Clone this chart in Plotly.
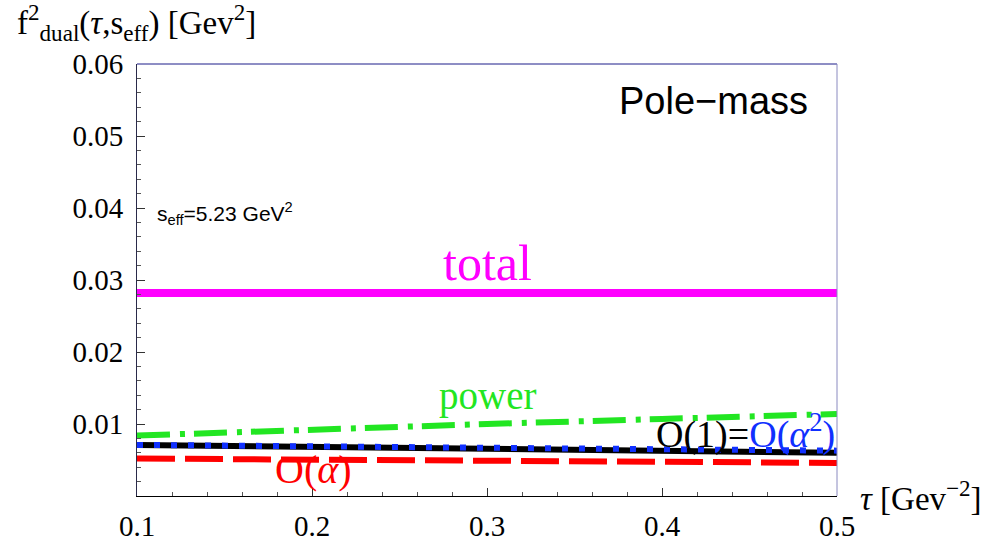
import plotly.graph_objects as go

# Borel parameter grid (GeV^-2)
tau = [0.1, 0.2, 0.3, 0.4, 0.5]

# Dual decay-constant contributions f^2_dual(tau, s_eff) in GeV^2
f_total = [0.0282, 0.0282, 0.0282, 0.0282, 0.0282]
f_power = [0.0084, 0.0093, 0.0100, 0.0107, 0.0114]
f_order1 = [0.0071, 0.0068, 0.0065, 0.0063, 0.0060]
f_order_a2 = [0.0071, 0.0069, 0.0067, 0.0065, 0.0063]
f_order_a = [0.0052, 0.0050, 0.0049, 0.0047, 0.0046]

x_ticks = [0.1, 0.2, 0.3, 0.4, 0.5]
x_tick_text = ["0.1", "0.2", "0.3", "0.4", "0.5"]
y_ticks = [0.01, 0.02, 0.03, 0.04, 0.05, 0.06]
y_tick_text = ["0.01", "0.02", "0.03", "0.04", "0.05", "0.06"]

SERIF = "Liberation Serif, Times New Roman, serif"
SANS = "Liberation Sans, Arial, sans-serif"

fig = go.Figure()
fig.add_trace(go.Scatter(x=tau, y=f_order1, mode="lines",
                         line=dict(color="black", width=6), name="O(1)"))
fig.add_trace(go.Scatter(x=tau, y=f_order_a2, mode="lines",
                         line=dict(color="#1030ff", width=6, dash="6px,11px"), name="O(a^2)"))
fig.add_trace(go.Scatter(x=tau, y=f_order_a, mode="lines",
                         line=dict(color="#ff0000", width=6, dash="38px,10px"), name="O(a)"))
fig.add_trace(go.Scatter(x=tau, y=f_power, mode="lines",
                         line=dict(color="#22e622", width=6, dash="33px,10px,5px,9px"), name="power"))
fig.add_trace(go.Scatter(x=tau, y=f_total, mode="lines",
                         line=dict(color="#ff00ff", width=8), name="total"))

annotations = [
    dict(x=0.3, y=0.0324, text="total", font=dict(family=SERIF, size=50, color="#ff00ff"),
         xanchor="center", yanchor="middle"),
    dict(x=0.3, y=0.0139, text="power", font=dict(family=SERIF, size=39, color="#22e622"),
         xanchor="center", yanchor="middle"),
    dict(x=0.5, y=0.0089,
         text="O(1)=<span style='color:#1030ff'>O(<i>α</i><sup>2</sup>)</span>",
         font=dict(family=SERIF, size=38, color="black"), xanchor="right", yanchor="middle"),
    dict(x=0.2006, y=0.0037, text="O(<i>α</i>)", font=dict(family=SERIF, size=40, color="#ff0000"),
         xanchor="center", yanchor="middle"),
    dict(x=0.4297, y=0.0549, text="Pole−mass", font=dict(family=SANS, size=38, color="black"),
         xanchor="center", yanchor="middle"),
    dict(x=0.1100, y=0.0393, text="s<sub>eff</sub>=5.23 GeV<sup>2</sup>",
         font=dict(family=SANS, size=21, color="black"), xanchor="left", yanchor="middle"),
    # axis titles
    dict(xref="paper", yref="paper", x=-0.174, y=1.097,
         text="f<sup>2</sup><sub>dual</sub>(<i>τ</i>,s<sub>eff</sub>) [Gev<sup>2</sup>]",
         font=dict(family=SERIF, size=33, color="black"), xanchor="left", yanchor="middle"),
    dict(xref="paper", yref="paper", x=1.03, y=0.0,
         text="<i>τ</i> [Gev<sup>−2</sup>]",
         font=dict(family=SERIF, size=33, color="black"), xanchor="left", yanchor="middle"),
]
for a in annotations:
    a.setdefault("xref", "x")
    a.setdefault("yref", "y")
    a["showarrow"] = False

fig.update_layout(
    template="none",
    width=985, height=546,
    margin=dict(l=137, r=148, t=64, b=50, pad=0),
    paper_bgcolor="white", plot_bgcolor="white",
    font=dict(family=SERIF, color="black"),
    showlegend=False,
    annotations=annotations,
    shapes=[
        dict(type="line", xref="paper", yref="paper", x0=0, x1=1, y0=1, y1=1,
             line=dict(color="#1c1c8a", width=1)),
        dict(type="line", xref="paper", yref="paper", x0=1, x1=1, y0=0, y1=1,
             line=dict(color="#8a8ac0", width=1)),
    ],
)

fig.update_xaxes(
    automargin=False,
    range=[0.1, 0.5], tickvals=x_ticks, ticktext=x_tick_text,
    showgrid=False, zeroline=False,
    showline=True, linecolor="black", linewidth=1,
    ticks="inside", ticklen=8, tickcolor="#333", tickwidth=1,
    minor=dict(dtick=0.02, tick0=0.1, ticks="inside", ticklen=4, tickcolor="#555", showgrid=False),
    tickfont=dict(family=SERIF, size=29, color="black"),
    ticklabelstandoff=4,
)
fig.update_yaxes(
    automargin=False,
    range=[0, 0.06], tickvals=y_ticks, ticktext=y_tick_text,
    showgrid=False, zeroline=False,
    showline=True, linecolor="#2a2a4a", linewidth=1,
    ticks="inside", ticklen=8, tickcolor="#333", tickwidth=1,
    minor=dict(dtick=0.002, tick0=0, ticks="inside", ticklen=4, tickcolor="#555", showgrid=False),
    tickfont=dict(family=SERIF, size=29, color="black"),
    ticklabelstandoff=7,
)

fig.write_html("out.html")
